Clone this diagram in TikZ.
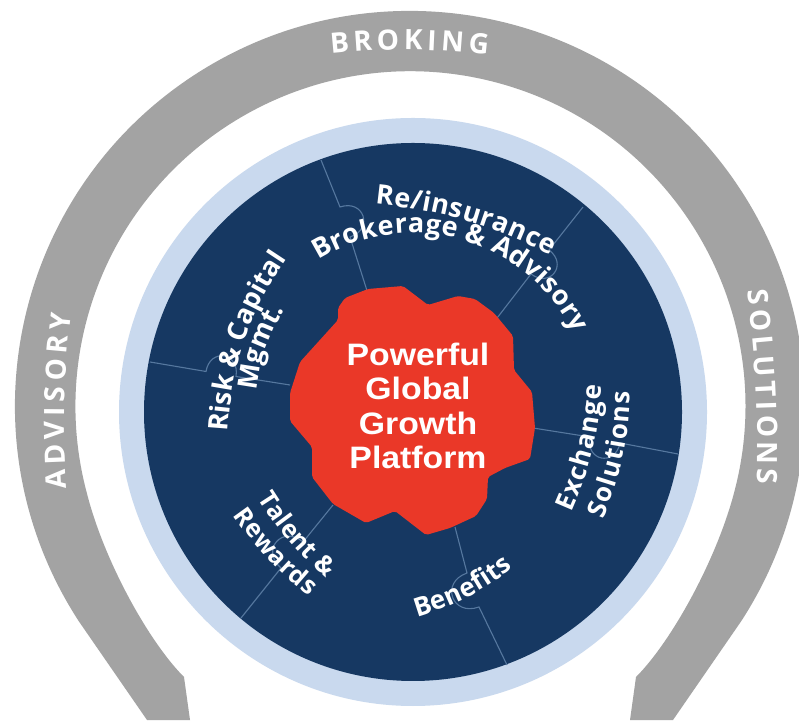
\documentclass[tikz,border=0pt]{standalone}
\usepackage{fontspec}
\setmainfont{Liberation Sans}
\newfontfamily\labfont{Open Sans}
\usetikzlibrary{decorations.text,calc}
\definecolor{ringgray}{HTML}{A3A3A3}
\definecolor{navy}{HTML}{163862}
\definecolor{paleblue}{HTML}{C9D9EE}
\definecolor{gearred}{HTML}{EA3828}
\definecolor{seam}{HTML}{56789F}
\tikzset{
  seamline/.style={draw=seam, line width=1.1pt},
  ctext/.style 2 args={decorate, decoration={text along path, text color=white,
      text align=fit to path,
      text={|\labfont\bfseries\fontsize{#1}{30pt}\selectfont|#2}}},
  coretext/.style={text=white, font=\bfseries\fontsize{31pt}{34.3pt}\selectfont,
      align=center, xscale=1.09, inner sep=0pt},
}
\begin{document}
\begin{tikzpicture}[x=1pt,y=1pt]
\useasboundingbox (0,0) rectangle (799,727);
\fill[white] (0,0) rectangle (799,727);
% outer grey horseshoe
\fill[ringgray] (147,7) -- (78.7,105.9)
  arc[start angle=213,end angle=-33,radius=395pt]
  -- (673,7) -- (630,7) -- (636,50)
  .. controls (671,85) and (716,166) .. (734,234)
  arc[start angle=-15,end angle=195,radius=335pt]
  .. controls (104,166) and (149,85) .. (184,50)
  -- (190,7) -- cycle;
% ring labels
\path[ctext={28pt}{BROKING}] (331,673) to[bend left=6] (488,672);
\path[ctext={28pt}{ADVISORY}] (67,238) to[bend left=5] (71,413);
\path[ctext={28pt}{SOLUTIONS}] (747,436) to[bend left=4] (757,243);
% discs
\coordinate (C) at (413,315);
\fill[paleblue] (C) circle[radius=294pt];
\fill[navy] (C) circle[radius=269pt];
% puzzle seams
\coordinate (a1) at (321,567); \coordinate (b1) at (340,520);
\coordinate (c1) at (350,490); \coordinate (d1) at (369,430);
\coordinate (a2) at (583,520); \coordinate (b2) at (549,477);
\coordinate (c2) at (531,453); \coordinate (d2) at (494,405);
\coordinate (a3) at (533,299); \coordinate (b3) at (590,290);
\coordinate (c3) at (620,284); \coordinate (d3) at (678,273);
\coordinate (a4) at (455,200); \coordinate (b4) at (467,154);
\coordinate (c4) at (479,120); \coordinate (d4) at (507,62);
\coordinate (a5) at (333,222); \coordinate (b5) at (303,185);
\coordinate (c5) at (281,159); \coordinate (d5) at (241,109);
\coordinate (a6) at (150,365); \coordinate (b6) at (206,355.5);
\coordinate (c6) at (236,350.5); \coordinate (d6) at (290,342);
\draw[seamline] (a1) -- (b1) .. controls ($(b1)!0.8!90:(c1)$) and ($(c1)!0.8!-90:(b1)$) .. (c1) -- (d1);
\draw[seamline] (a2) -- (b2) .. controls ($(b2)!0.8!90:(c2)$) and ($(c2)!0.8!-90:(b2)$) .. (c2) -- (d2);
\draw[seamline] (a3) -- (b3) .. controls ($(b3)!0.8!-90:(c3)$) and ($(c3)!0.8!90:(b3)$) .. (c3) -- (d3);
\draw[seamline] (a4) -- (b4) .. controls ($(b4)!0.8!-90:(c4)$) and ($(c4)!0.8!90:(b4)$) .. (c4) -- (d4);
\draw[seamline] (a5) -- (b5) .. controls ($(b5)!0.8!-90:(c5)$) and ($(c5)!0.8!90:(b5)$) .. (c5) -- (d5);
\draw[seamline] (a6) -- (b6) .. controls ($(b6)!0.8!90:(c6)$) and ($(c6)!0.8!-90:(b6)$) .. (c6) -- (d6);
% red core
\fill[gearred, rounded corners=2pt] (338,419) -- (345,429) -- (368,438) -- (403,441)
  -- (428,422) -- (458,431) -- (475,428) -- (494,414) -- (513,391) -- (514,357)
  -- (532,335) -- (535,299) -- (530,268) -- (505,259) -- (488,250) -- (487,228)
  -- (476,211) -- (450,199) -- (426,192) -- (395,216) -- (366,204) -- (333,223)
  -- (312,250) -- (312,280) -- (290,306) -- (290,334) -- (300,365) -- (319,386)
  -- (338,407) -- cycle;
\node[coretext] (core) at (418,321) {Powerful\\Global\\Growth\\Platform};
% segment labels
\path[ctext={27pt}{Re/insurance}] (375,523) to[bend left=10] (551,472);
\path[ctext={27pt}{Brokerage {\&} Advisory}] ($(C)+(122:179pt)$) arc[start angle=122,end angle=26,radius=179pt];
\path[ctext={27pt}{Risk {\&} Capital}] (228,295) to[bend left=15] (286,467);
\path[ctext={27pt}{Mgmt.}] (257,336) to[bend left=12] (284,416);
\path[ctext={26pt}{Exchange}] (571,215) to[bend right=10] (602,342);
\path[ctext={26pt}{Solutions}] (603,208) to[bend right=10] (630,335);
\path[ctext={25pt}{Talent {\&}}] (258,229) to[bend right=8] (326,149);
\path[ctext={25pt}{Rewards}] (233,212) to[bend right=8] (309,131);
\path[ctext={26pt}{Benefits}] (417,110) to[bend right=10] (513,159);
\end{tikzpicture}
\end{document}
